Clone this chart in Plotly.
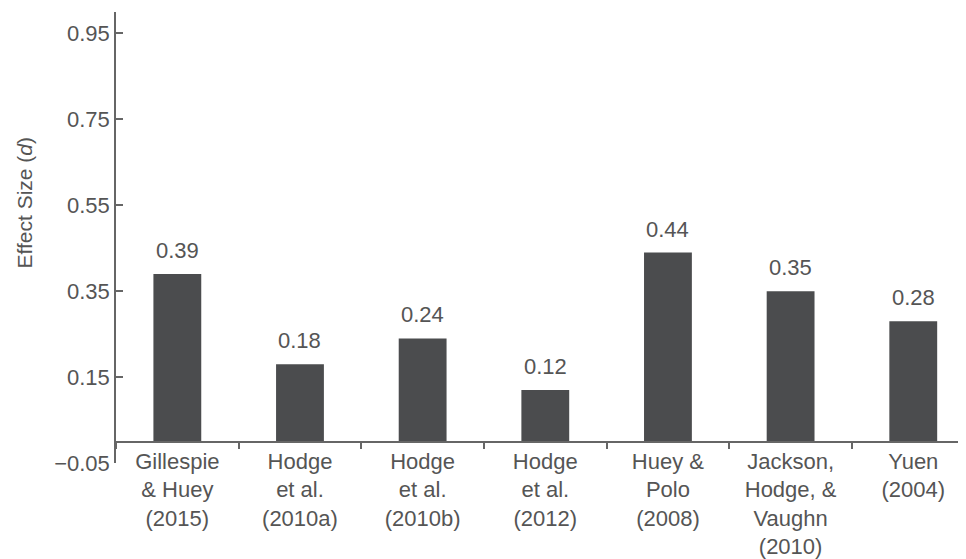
import plotly.graph_objects as go

categories = [
    "Gillespie<br>& Huey<br>(2015)",
    "Hodge<br>et al.<br>(2010a)",
    "Hodge<br>et al.<br>(2010b)",
    "Hodge<br>et al.<br>(2012)",
    "Huey &<br>Polo<br>(2008)",
    "Jackson,<br>Hodge, &<br>Vaughn<br>(2010)",
    "Yuen<br>(2004)",
]
effect_sizes = [0.39, 0.18, 0.24, 0.12, 0.44, 0.35, 0.28]
y_tickvals = [-0.05, 0.15, 0.35, 0.55, 0.75, 0.95]
y_ticktext = ["\u22120.05", "0.15", "0.35", "0.55", "0.75", "0.95"]

FONT = "Liberation Sans, Arial, sans-serif"
TXT = "#555555"
AX = "#666666"
BAR = "#4b4c4e"
FS = 22

fig = go.Figure(
    go.Bar(
        x=categories,
        y=effect_sizes,
        width=0.39,
        marker=dict(color=BAR, line=dict(width=0)),
        hoverinfo="x+y",
    )
)

value_labels = [
    dict(
        x=c,
        y=v,
        xref="x",
        yref="y",
        text=f"{v:.2f}",
        showarrow=False,
        xanchor="center",
        yanchor="bottom",
        yshift=9,
        font=dict(size=FS, color=TXT, family=FONT),
    )
    for c, v in zip(categories, effect_sizes)
]

fig.update_layout(
    width=958,
    height=551,
    margin=dict(l=108, r=0, t=4, b=96, autoexpand=False),
    paper_bgcolor="white",
    plot_bgcolor="white",
    showlegend=False,
    font=dict(family=FONT, size=FS, color=TXT),
    xaxis=dict(
        type="category",
        range=[-0.5, 6.43],
        anchor="free",
        position=0.05 / 1.05,
        automargin=False,
        showline=True,
        linecolor=AX,
        linewidth=1.5,
        ticks="outside",
        tickson="boundaries",
        ticklen=7,
        tickwidth=1.5,
        tickcolor=AX,
        showgrid=False,
        tickfont=dict(size=FS, color=TXT, family=FONT),
    ),
    yaxis=dict(
        range=[-0.05, 1.0],
        tickvals=y_tickvals,
        ticktext=y_ticktext,
        automargin=False,
        showline=True,
        linecolor=AX,
        linewidth=1.5,
        ticks="inside",
        ticklen=7,
        tickwidth=1.5,
        tickcolor=AX,
        showgrid=False,
        zeroline=False,
        tickfont=dict(size=FS, color=TXT, family=FONT),
    ),
    annotations=value_labels + [
        dict(
            text="Effect Size (<i>d</i>)",
            xref="paper",
            yref="paper",
            x=0,
            y=(463 - 202.5) / 451,
            xshift=-92,
            xanchor="center",
            yanchor="middle",
            textangle=-90,
            showarrow=False,
            font=dict(size=21, color=TXT, family=FONT),
        )
    ],
)

fig.write_html("out.html")
